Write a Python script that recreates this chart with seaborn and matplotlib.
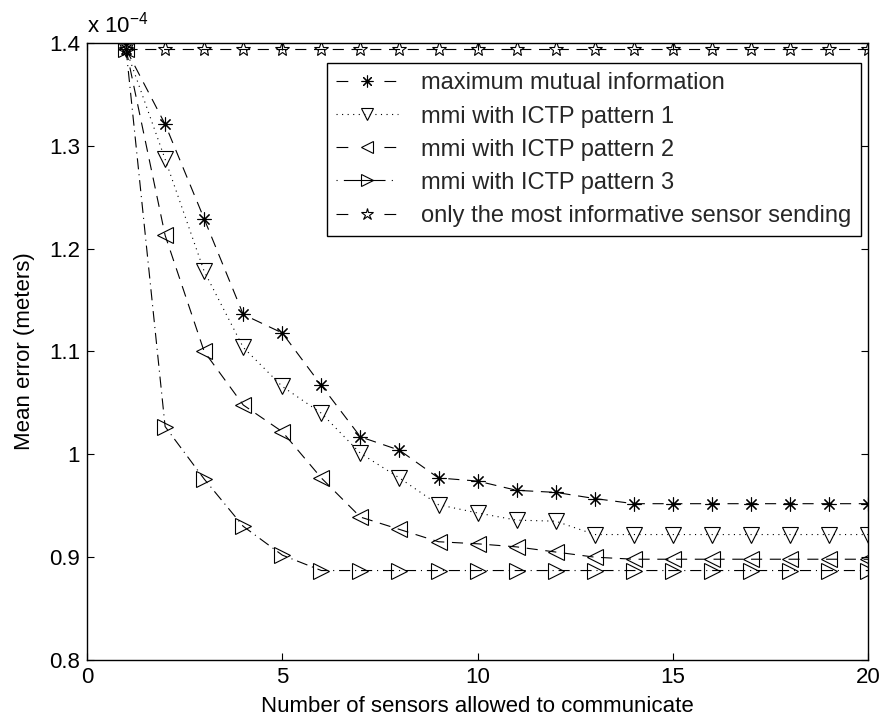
import matplotlib
matplotlib.use("Agg")
import matplotlib.pyplot as plt
from matplotlib.lines import Line2D
import seaborn as sns
import pandas as pd

# Number of sensors allowed to communicate
sensors = list(range(1, 21))

# Mean error in units of 1e-4 meters
err_max_mi = [1.394, 1.321, 1.229, 1.136, 1.118, 1.067, 1.017, 1.004, 0.977, 0.974,
              0.965, 0.963, 0.957, 0.952, 0.952, 0.952, 0.952, 0.952, 0.952, 0.952]
err_ictp1 = [1.394, 1.287, 1.178, 1.104, 1.066, 1.040, 1.001, 0.977, 0.951, 0.943,
             0.936, 0.935, 0.922, 0.922, 0.922, 0.922, 0.922, 0.922, 0.922, 0.922]
err_ictp2 = [1.394, 1.213, 1.100, 1.048, 1.022, 0.977, 0.939, 0.927, 0.915, 0.913,
             0.910, 0.905, 0.900, 0.898, 0.898, 0.898, 0.898, 0.898, 0.898, 0.898]
err_ictp3 = [1.394, 1.027, 0.976, 0.930, 0.902, 0.887, 0.887, 0.887, 0.887, 0.887,
             0.887, 0.887, 0.887, 0.887, 0.887, 0.887, 0.887, 0.887, 0.887, 0.887]
err_single = [1.394] * 20

labels = [
    "maximum mutual information",
    "mmi with ICTP pattern 1",
    "mmi with ICTP pattern 2",
    "mmi with ICTP pattern 3",
    "only the most informative sensor sending",
]
series = [err_max_mi, err_ictp1, err_ictp2, err_ictp3, err_single]

sns.set_theme(style="white")
plt.rcParams["font.family"] = ["Liberation Sans", "DejaVu Sans"]
plt.rcParams["lines.scale_dashes"] = False
plt.rcParams["mathtext.fontset"] = "custom"
plt.rcParams["mathtext.rm"] = "Liberation Sans"
plt.rcParams["mathtext.default"] = "regular"

FS = 16
LEG_FS = 17

# line patterns for the curves (points)
dash = (0, (8, 5.5))
dot = (0, (0.8, 3.2))
dashdot = (0, (8, 3.5, 0.8, 3.5))
asterisk = (8, 2, 0)

# shorter patterns for the legend samples: a segment on each side of the marker
leg_dash = (0, (8.5, 26, 8.5, 60))
leg_dot = (0, (0.8, 3.2))
leg_dashdot = (0, (0.8, 4.5, 30, 4.5, 0.8, 60))

styles = [
    dict(linestyle=dash, marker=asterisk, markersize=10),
    dict(linestyle=dot, marker="v", markersize=11),
    dict(linestyle=dash, marker="<", markersize=11),
    dict(linestyle=dashdot, marker=">", markersize=11),
    dict(linestyle=dash, marker="*", markersize=11),
]
leg_styles = [leg_dash, leg_dot, leg_dash, leg_dashdot, leg_dash]

fig = plt.figure(figsize=(8.85, 7.26), dpi=100)
ax = fig.add_axes([0.0983, 0.0909, 0.8827, 0.8499])

for vals, lab, st in zip(series, labels, styles):
    df = pd.DataFrame({"x": sensors, "y": vals})
    sns.lineplot(data=df, x="x", y="y", ax=ax, color="black", linewidth=0.8,
                 markerfacecolor="none", markeredgecolor="black",
                 markeredgewidth=0.8, legend=False, **st)

ax.set_xlim(0, 20)
ax.set_ylim(0.8, 1.4)
ax.set_xticks([0, 5, 10, 15, 20])
ax.set_yticks([0.8, 0.9, 1.0, 1.1, 1.2, 1.3, 1.4])
ax.set_yticklabels(["0.8", "0.9", "1", "1.1", "1.2", "1.3", "1.4"])
ax.tick_params(direction="in", length=5, width=0.8, colors="black",
               labelsize=FS, top=True, right=True, bottom=True, left=True, pad=5)
for sp in ax.spines.values():
    sp.set_color("black")
    sp.set_linewidth(1.0)
    sp.set_visible(True)

ax.set_xlabel("Number of sensors allowed to communicate", fontsize=FS,
              color="black", labelpad=6)
ax.set_ylabel("Mean error (meters)", fontsize=FS, color="black", labelpad=10)
ax.annotate(r"x 10$^{-4}$", xy=(0, 1), xycoords="axes fraction",
            xytext=(0, 10), textcoords="offset pixels", fontsize=FS,
            ha="left", va="baseline", color="black")

handles = []
for st, ls in zip(styles, leg_styles):
    ms = 9 if st["marker"] != asterisk else 8.5
    handles.append(Line2D([0], [0], color="black", linewidth=0.8, linestyle=ls,
                          marker=st["marker"], markersize=ms,
                          markerfacecolor="none", markeredgecolor="black",
                          markeredgewidth=0.8))

leg = ax.legend(handles, labels, loc="upper right", bbox_to_anchor=(0.991, 0.9676),
                fontsize=LEG_FS, frameon=True, fancybox=False, framealpha=1,
                edgecolor="black", handlelength=2.6, handletextpad=1.0,
                borderpad=0.4, labelspacing=0.47, borderaxespad=0.0)
leg.get_frame().set_linewidth(1.0)

fig.savefig("out.png", dpi=100)
